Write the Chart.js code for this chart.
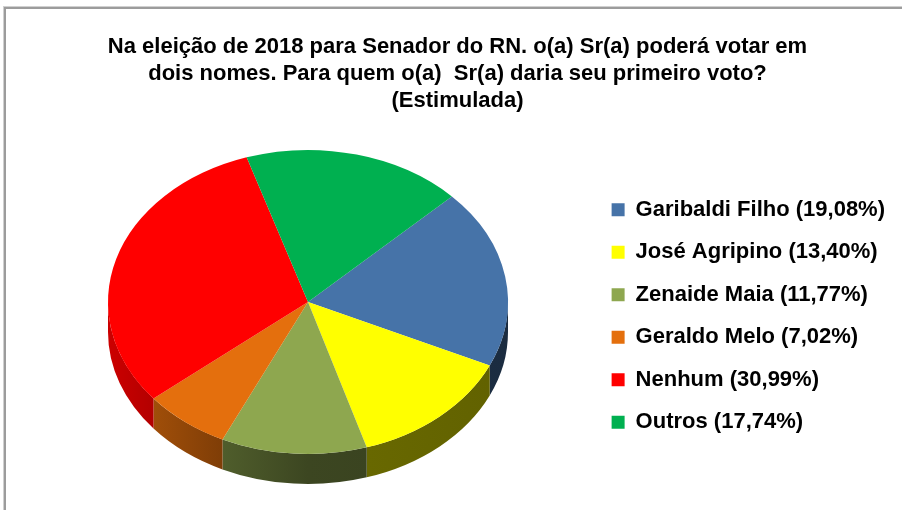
<!DOCTYPE html>
<html><head><meta charset="utf-8">
<script src="https://cdn.jsdelivr.net/npm/chart.js@4"></script>
<style>
html,body{margin:0;padding:0;background:#fff;overflow:hidden;width:902px;height:510px}
#frame{position:absolute;left:4px;top:7px;width:940px;height:540px;border-left:2px solid #9c9c9c;border-top:2px solid #9c9c9c;box-shadow:-1px -1px 0 #d0d0d0}
#c{position:absolute;left:0;top:0}
</style></head><body>
<div id="frame"></div>
<canvas id="c" width="902" height="510"></canvas>
<script>
const titleLines = [
  'Na eleição de 2018 para Senador do RN. o(a) Sr(a) poderá votar em',
  'dois nomes. Para quem o(a)  Sr(a) daria seu primeiro voto?',
  '(Estimulada)'
];
const categories = ['Garibaldi Filho', 'José Agripino', 'Zenaide Maia', 'Geraldo Melo', 'Nenhum', 'Outros'];
const values = [19.08, 13.40, 11.77, 7.02, 30.99, 17.74];
const colors = ['#4673A8', '#FFFF00', '#8EA74F', '#E46F0D', '#FF0000', '#00B050'];

const FONT = "'Liberation Sans', Arial, sans-serif";

function shade(hex, f) {
  const n = parseInt(hex.slice(1), 16);
  const r = Math.round(((n >> 16) & 255) * f), g = Math.round(((n >> 8) & 255) * f), b = Math.round((n & 255) * f);
  return `rgb(${r},${g},${b})`;
}

const pie3d = {
  id: 'pie3d',
  beforeDatasetsDraw(chart, args, o) {
    const meta = chart.getDatasetMeta(0);
    const ctx = chart.ctx;
    const a0 = meta.data[0];
    const R = a0.outerRadius;
    const k = o.rx / R;
    const ry = o.rx * o.sy;
    const TAU = Math.PI * 2;
    meta.data.forEach((arc, i) => {
      const s = arc.startAngle, e = arc.endAngle;
      const s0 = ((s % TAU) + TAU) % TAU;
      const e0 = s0 + (e - s);
      [[0, Math.PI, 0], [TAU, TAU + Math.PI, TAU]].forEach(([lo, hi, off]) => {
        const a = Math.max(s0, lo), b = Math.min(e0, hi);
        if (b <= a) return;
        ctx.save();
        ctx.beginPath();
        ctx.ellipse(o.cx, o.cy, o.rx, ry, 0, a - off, b - off);
        ctx.ellipse(o.cx, o.cy + o.depth, o.rx, ry, 0, b - off, a - off, true);
        ctx.closePath();
        const g = ctx.createLinearGradient(o.cx - o.rx, 0, o.cx + o.rx, 0);
        o.shade.forEach(([p, f]) => g.addColorStop(p, shade(colors[i], f)));
        ctx.fillStyle = g;
        ctx.fill();
        ctx.restore();
      });
    });
    ctx.save();
    ctx.translate(o.cx, o.cy);
    ctx.scale(k, k * o.sy);
    ctx.translate(-a0.x, -a0.y);
  },
  afterDatasetsDraw(chart) { chart.ctx.restore(); }
};

new Chart(document.getElementById('c'), {
  type: 'pie',
  data: {
    labels: categories,
    datasets: [{ data: values, backgroundColor: colors, borderWidth: 0, hoverOffset: 0 }]
  },
  options: {
    responsive: false,
    animation: false,
    rotation: 46,
    events: [],
    layout: { padding: { left: 20, right: 7, top: 0, bottom: 0 } },
    plugins: {
      title: {
        display: true, text: titleLines, color: '#000',
        font: { family: FONT, size: 22, weight: 'bold', lineHeight: 1.23 },
        padding: { top: 33, bottom: 4 }
      },
      legend: {
        position: 'right',
        title: { display: true, text: ' ', font: { size: 12, lineHeight: 1 }, padding: { top: 110, bottom: 0 } },
        labels: {
          boxWidth: 13, boxHeight: 13, padding: 20.5, color: '#000',
          font: { family: FONT, size: 22, weight: 'bold' },
          generateLabels(chart) {
            return categories.map((c, i) => ({
              text: `${c} (${values[i].toFixed(2).replace('.', ',')}%)`,
              fillStyle: colors[i], strokeStyle: colors[i], lineWidth: 0,
              hidden: false, index: i, fontColor: '#000'
            }));
          }
        }
      },
      tooltip: { enabled: false },
      pie3d: { cx: 308, cy: 302, rx: 200, sy: 0.76, depth: 30,
        shade: [[0, 0.8], [0.28, 0.56], [0.5, 0.42], [1, 0.38]] }
    }
  },
  plugins: [pie3d]
});
</script>
</body></html>
